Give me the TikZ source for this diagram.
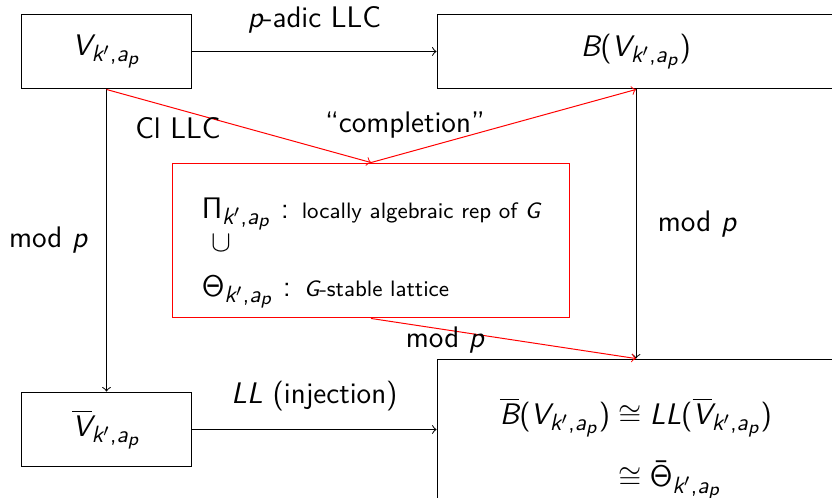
\documentclass[tikz,border=0pt]{standalone}
\usepackage{amsmath}
\renewcommand{\familydefault}{\sfdefault}
% sans serif math letters, as on a slide
\DeclareSymbolFont{operators}{OT1}{cmss}{m}{n}
\DeclareSymbolFont{sansletters}{TU}{lmss}{m}{sl}
\DeclareMathSymbol{,}{\mathpunct}{operators}{"2C}
\DeclareMathSizes{12}{12}{9.5}{7.5}
\makeatletter
\@for\ch:=A,B,G,L,V,a,k,p\do{%
  \expandafter\DeclareMathSymbol\expandafter{\ch}{\mathalpha}{sansletters}{\expandafter`\ch}}
\makeatother
\tikzset{
  obj/.style={draw, minimum width=2.423cm, minimum height=1.063cm, inner sep=0pt},
  wideobj/.style={obj, minimum width=5.640cm},
  latbox/.style={draw=red, minimum width=5.640cm, minimum height=2.196cm, align=left},
  redarrow/.style={->, red},
}
\newcommand{\Vkap}{V_{k',a_p}}
\begin{document}
\begin{tikzpicture}[x=0.01417cm, y=-0.01417cm, font=\large]
    \useasboundingbox (0,0) rectangle (832,498);
    \clip (0,0) rectangle (832,498);
    \node[obj] (V) at (106.5,51.5) {$\Vkap$};
    \node[wideobj] (BV) at (636,51.5) {$B(\Vkap)$};
    \node[obj] (Vbar) at (106.5,429.5) {$\overline{V}_{k',a_p}$};
    \node[wideobj, minimum height=2.536cm] (Bbar) at (636,448.5)
        {$\begin{aligned}\overline{B}(\Vkap) &\cong LL(\overline{V}_{k',a_p})\\[6pt]
        &\cong \bar{\Theta}_{k',a_p}\end{aligned}$};
    \node[latbox] (lat) at (371,240.5)
        {\rule{0pt}{0.65cm}$\Pi_{k',a_p}$ : {\small locally algebraic rep of $G$}\\[-0.5pt]
        \hspace*{0.14cm}$\cup$\\[4pt]
        $\Theta_{k',a_p}$ : {\small $G$-stable lattice}};
    \draw[->] (V) -- node[midway, yshift=0.446cm] {$p$-adic LLC} (BV);
    \draw[->] (V) -- node[midway, xshift=-0.829cm] {mod $p$} (Vbar);
    \draw[->] (BV) -- node[midway, xshift=0.864cm] {mod $p$} (Bbar);
    \draw[->] (Vbar) -- node[midway, yshift=0.475cm] {$LL$ (injection)} (Vbar -| Bbar.west);
    \draw[redarrow] (V.south) -- node[pos=0.27, yshift=-0.269cm, text=black] {Cl LLC} (lat.north);
    \draw[redarrow] (lat.north) -- node[pos=0.128, yshift=0.404cm, text=black] {``completion''} (BV.south);
    \draw[redarrow] (lat.south) -- node[pos=0.279, yshift=-0.15cm, text=black] {mod $p$} (Bbar.north);
\end{tikzpicture}
\end{document}
